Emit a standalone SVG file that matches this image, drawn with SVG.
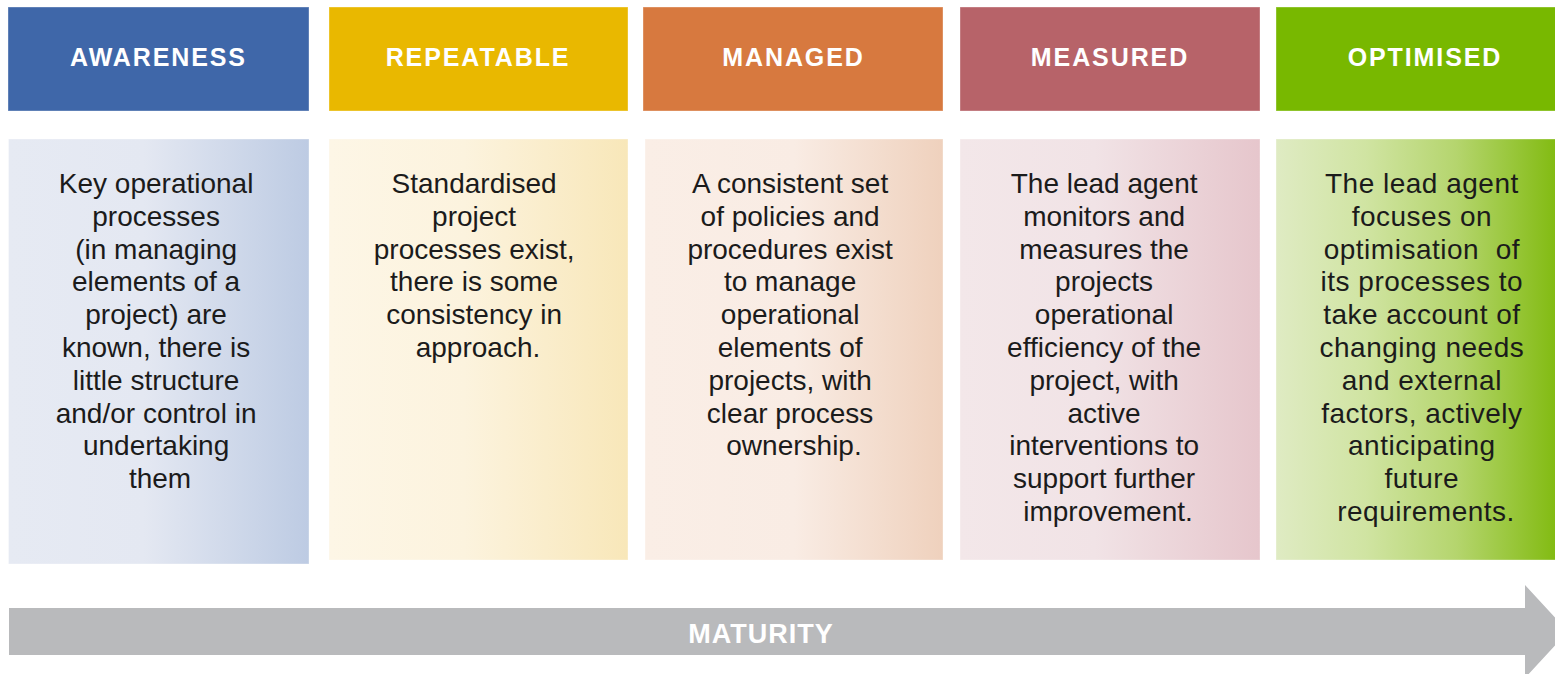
<svg xmlns="http://www.w3.org/2000/svg" width="1555" height="674" viewBox="0 0 1555 674">
  <style>
    .head { font-family: "Liberation Sans", Arial, sans-serif; font-weight: bold; font-size: 25px; letter-spacing: 1.9px; fill: #ffffff; text-anchor: middle; }
    .body { font-family: "Liberation Sans", Arial, sans-serif; font-size: 28px; fill: #1b1b1b; text-anchor: middle; }
    .wide { letter-spacing: 0.5px; }
    .mat { font-family: "Liberation Sans", Arial, sans-serif; font-weight: bold; font-size: 27px; letter-spacing: 1px; fill: #ffffff; text-anchor: middle; }
    .edge { stroke: #ffffff; stroke-opacity: 0.35; stroke-width: 1; }
  </style>
  <defs>
    <linearGradient id="gAware" x1="0" y1="0" x2="1" y2="0">
      <stop offset="0" stop-color="#E6EAF3"/>
      <stop offset="0.45" stop-color="#E4E8F2"/>
      <stop offset="1" stop-color="#BDCBE3"/>
    </linearGradient>
    <linearGradient id="gRepeat" x1="0" y1="0" x2="1" y2="0">
      <stop offset="0" stop-color="#FDF6E6"/>
      <stop offset="0.45" stop-color="#FCF3DE"/>
      <stop offset="1" stop-color="#F8E7B9"/>
    </linearGradient>
    <linearGradient id="gManage" x1="0" y1="0" x2="1" y2="0">
      <stop offset="0" stop-color="#FAEEE6"/>
      <stop offset="0.5" stop-color="#F9ECE4"/>
      <stop offset="1" stop-color="#EFD1BD"/>
    </linearGradient>
    <linearGradient id="gMeasure" x1="0" y1="0" x2="1" y2="0">
      <stop offset="0" stop-color="#F3E7E9"/>
      <stop offset="0.45" stop-color="#F1E3E6"/>
      <stop offset="1" stop-color="#E6C6CC"/>
    </linearGradient>
    <linearGradient id="gOptim" x1="0" y1="0" x2="1" y2="0">
      <stop offset="0" stop-color="#DFEBC3"/>
      <stop offset="0.3" stop-color="#D0E4A2"/>
      <stop offset="0.6" stop-color="#B5D56E"/>
      <stop offset="1" stop-color="#78B600"/>
    </linearGradient>
  </defs>

  <rect width="1555" height="674" fill="#ffffff"/>

  <!-- maturity arrow -->
  <g id="maturity">
    <polygon points="9,608 1525,608 1525,585 1568,631.5 1525,678 1525,655 9,655" fill="#B9BABC"/>
    <text class="mat" x="761" y="643">MATURITY</text>
  </g>

  <g id="awareness">
    <rect class="edge" x="8" y="7" width="301" height="104" fill="#3F67A9"/>
    <text class="head" x="158.5" y="66">AWARENESS</text>
    <rect class="edge" x="8.5" y="139" width="300.5" height="425" fill="url(#gAware)"/>
    <text class="body" y="193">
      <tspan x="160">Key operational</tspan>
      <tspan x="160" dy="32.8">processes</tspan>
      <tspan x="160" dy="32.8">(in managing</tspan>
      <tspan x="160" dy="32.8">elements of a</tspan>
      <tspan x="160" dy="32.8">project) are</tspan>
      <tspan x="160" dy="32.8">known, there is</tspan>
      <tspan x="160" dy="32.8">little structure</tspan>
      <tspan x="160" dy="32.8">and/or control in</tspan>
      <tspan x="160" dy="32.8">undertaking</tspan>
      <tspan x="160" dy="32.8">them</tspan>
    </text>
  </g>

  <g id="repeatable">
    <rect class="edge" x="329" y="7" width="299" height="104" fill="#E9B800"/>
    <text class="head" x="478" y="66">REPEATABLE</text>
    <rect class="edge" x="329" y="139" width="299" height="421" fill="url(#gRepeat)"/>
    <text class="body" y="193">
      <tspan x="478">Standardised</tspan>
      <tspan x="478" dy="32.8">project</tspan>
      <tspan x="478" dy="32.8">processes exist,</tspan>
      <tspan x="478" dy="32.8">there is some</tspan>
      <tspan x="478" dy="32.8">consistency in</tspan>
      <tspan x="478" dy="32.8">approach.</tspan>
    </text>
  </g>

  <g id="managed">
    <rect class="edge" x="643" y="7" width="300" height="104" fill="#D7793F"/>
    <text class="head" x="793.5" y="66">MANAGED</text>
    <rect class="edge" x="645" y="139" width="298" height="421" fill="url(#gManage)"/>
    <text class="body" y="193">
      <tspan x="794">A consistent set</tspan>
      <tspan x="794" dy="32.8">of policies and</tspan>
      <tspan x="794" dy="32.8">procedures exist</tspan>
      <tspan x="794" dy="32.8">to manage</tspan>
      <tspan x="794" dy="32.8">operational</tspan>
      <tspan x="794" dy="32.8">elements of</tspan>
      <tspan x="794" dy="32.8">projects, with</tspan>
      <tspan x="794" dy="32.8">clear process</tspan>
      <tspan x="794" dy="32.8">ownership.</tspan>
    </text>
  </g>

  <g id="measured">
    <rect class="edge" x="960" y="7" width="300" height="104" fill="#B76369"/>
    <text class="head" x="1110" y="66">MEASURED</text>
    <rect class="edge" x="960" y="139" width="300" height="421" fill="url(#gMeasure)"/>
    <text class="body" y="193">
      <tspan x="1108">The lead agent</tspan>
      <tspan x="1108" dy="32.8">monitors and</tspan>
      <tspan x="1108" dy="32.8">measures the</tspan>
      <tspan x="1108" dy="32.8">projects</tspan>
      <tspan x="1108" dy="32.8">operational</tspan>
      <tspan x="1108" dy="32.8">efficiency of the</tspan>
      <tspan x="1108" dy="32.8">project, with</tspan>
      <tspan x="1108" dy="32.8">active</tspan>
      <tspan x="1108" dy="32.8">interventions to</tspan>
      <tspan x="1108" dy="32.8">support further</tspan>
      <tspan x="1108" dy="32.8">improvement.</tspan>
    </text>
  </g>

  <g id="optimised">
    <rect class="edge" x="1276" y="7" width="300" height="104" fill="#78B800"/>
    <text class="head" x="1425" y="66">OPTIMISED</text>
    <rect class="edge" x="1276" y="139" width="300" height="421" fill="url(#gOptim)"/>
    <text class="body wide" y="193">
      <tspan x="1426">The lead agent</tspan>
      <tspan x="1426" dy="32.8">focuses on</tspan>
      <tspan x="1426" dy="32.8">optimisation&#160; of</tspan>
      <tspan x="1426" dy="32.8">its processes to</tspan>
      <tspan x="1426" dy="32.8">take account of</tspan>
      <tspan x="1426" dy="32.8">changing needs</tspan>
      <tspan x="1426" dy="32.8">and external</tspan>
      <tspan x="1426" dy="32.8">factors, actively</tspan>
      <tspan x="1426" dy="32.8">anticipating</tspan>
      <tspan x="1426" dy="32.8">future</tspan>
      <tspan x="1426" dy="32.8">requirements.</tspan>
    </text>
  </g>
</svg>
